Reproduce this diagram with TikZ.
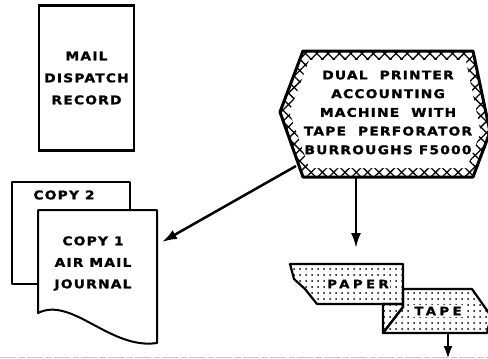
\documentclass[tikz,border=0pt]{standalone}
\usepackage{fontspec}
\newfontfamily\capsfont[FakeStretch=1.15,LetterSpace=10,FakeBold=1.5]{DejaVu Sans Bold}
\newfontfamily\tapefont[FakeStretch=1.15,LetterSpace=30,FakeBold=1.5]{DejaVu Sans Bold}
\usetikzlibrary{arrows.meta,patterns.meta,positioning}

\begin{document}
\begin{tikzpicture}[x=1pt,y=-1pt,
      lbl/.style={font=\capsfont\fontsize{12}{22}\selectfont,align=center,inner sep=0pt},
      sheet/.style={draw,line width=2pt,fill=white,line join=round},
      strip/.style={draw,line width=2.2pt,line join=round,pattern={Dots[distance=6pt,radius=1pt]}},
      striptext/.style={font=\tapefont\fontsize{11.5}{12}\selectfont,fill=white,inner sep=1.5pt},
      flow/.style={-{Latex[length=15pt,width=10pt]},line width=2.5pt},
      >=Latex
    ]
    \useasboundingbox (0,0) rectangle (488,359);

    % mail dispatch record
    \node[draw,line width=2.2pt,minimum width=95pt,minimum height=145pt,lbl] (record) at (86.5,78) {MAIL\\DISPATCH\\RECORD};

    % accounting machine
    \coordinate (hw) at (280,112);
    \coordinate (hnw) at (303,51);
    \coordinate (hne) at (473,51);
    \coordinate (he) at (490,132);
    \coordinate (hse) at (473,177);
    \coordinate (hsw) at (303,177);
    \fill[pattern={Lines[angle=45,distance=8pt,line width=1.3pt]}] (hw) -- (hnw) -- (hne) -- (he) -- (hse) -- (hsw) -- cycle;
    \fill[pattern={Lines[angle=-45,distance=8pt,line width=1.3pt]}] (hw) -- (hnw) -- (hne) -- (he) -- (hse) -- (hsw) -- cycle;
    \fill[white] (289.6,112) -- (309.2,60) -- (465.7,60) -- (480.6,132) -- (466.8,168) -- (309.3,168) -- cycle;
    \draw[line width=3pt,line join=round] (hw) -- (hnw) -- (hne) -- (he) -- (hse) -- (hsw) -- cycle;
    \node[lbl,font=\capsfont\fontsize{12}{18.7}\selectfont] (machine) at (388,112.5)
      {DUAL\ \ PRINTER\\ACCOUNTING\\MACHINE\ \ WITH\\TAPE\ \ PERFORATOR\\BURROUGHS\ F5000};

    % journal copies
    \draw[sheet] (12,182) rectangle (130,284);
    \node[lbl] (copy2) at (64,195) {COPY 2};
    \draw[sheet] (38,210) -- (157,210) -- (157,343) .. controls (110,350) and (72,296) .. (38,313) -- cycle;
    \node[lbl,font=\capsfont\fontsize{12}{21.5}\selectfont] (copy1) at (93,263.5) {COPY 1\\AIR MAIL\\JOURNAL};

    % paper tape
    \draw[strip] (290,264) -- (403,264) -- (403,304) -- (317,304) -- (313,299) -- (305,289) -- (294,279) -- cycle;
    \draw[strip] (403,289) -- (472,289) -- (491,316) -- (487,333) -- (383,333) -- (403,307) -- cycle;
    \draw[strip] (383,304) -- (403,304) -- (403,307) -- (383,333) -- cycle;
    \node[striptext] (paper) at (358,284) {PAPER};
    \node[striptext] (tape) at (438,311) {TAPE};

    % connectors
    \coordinate (m-out) at (296,166);
    \coordinate (copy1-in) at (162,242);
    \coordinate (m-bot) at (356,177);
    \coordinate (paper-in) at (356,248);
    \coordinate (tape-out) at (448,333);
    \coordinate (tape-end) at (448,359);
    \draw[flow] (m-out) -- (copy1-in);
    \draw[flow] (m-bot) -- (paper-in);
    \draw[-{Latex[length=13pt,width=9pt]},line width=2.5pt] (tape-out) -- (tape-end);

    \draw[gray!45,line width=0.8pt,dash pattern=on 16pt off 3pt on 6pt off 2pt] (0,357) -- (488,357);
  \end{tikzpicture}
\end{document}
